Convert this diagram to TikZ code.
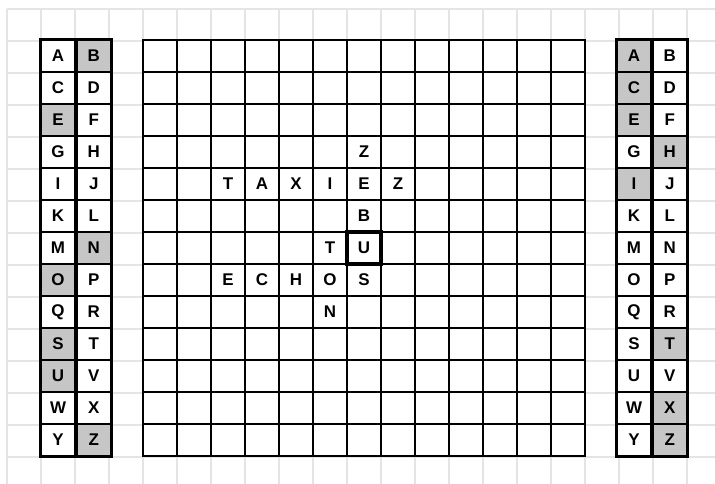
\documentclass[tikz,border=0pt]{standalone}
\usepackage{fontspec}
\setsansfont{Liberation Sans}
\usetikzlibrary{positioning}
\definecolor{rasterfarbe}{HTML}{E4E4E4}
\definecolor{markiert}{HTML}{C6C6C6}

\begin{document}
\begin{tikzpicture}[x=1bp, y=-1bp,
    feld/.style={draw, line width=1.8bp, minimum width=34bp, minimum height=32bp,
                 inner sep=0pt, font=\sffamily\bfseries\fontsize{17}{17}\selectfont},
    buchst/.style={minimum width=34bp, minimum height=32bp, inner sep=0pt,
                   font=\sffamily\bfseries\fontsize{17}{17}\selectfont},
    markbox/.style={buchst, draw, line width=3.4bp},
    linie/.style={line width=1.8bp},
    rahmen/.style={line width=2.8bp},
    raster/.style={draw=rasterfarbe, line width=1.2bp}
  ]
  % ── Hintergrund: Karopapier ──
  \fill[white] (0,0) rectangle (715,484);
  \useasboundingbox (0,0) rectangle (715,484);
  \foreach \i in {0,...,20}
    \draw[raster] ({7+34*\i},9) -- ({7+34*\i},484);
  \foreach \j in {0,...,14}
    \draw[raster] (7,{9+32*\j}) -- (715,{9+32*\j});

  % ── Spielfeld 13 x 13 ──
  \fill[white] (143,40) rectangle (585,456);
  \foreach \i in {1,...,12} {
    \draw[linie] ({143+34*\i},40) -- ({143+34*\i},456);
    \draw[linie] (143,{40+32*\i}) -- (585,{40+32*\i});
  }
  \draw[rahmen] (143,40) rectangle (585,456);

  % ── gelegte Buchstaben ──
  \foreach \b/\z/\s in {Z/3/6, T/4/2, A/4/3, X/4/4, I/4/5, E/4/6, Z/4/7,
                        B/5/6, T/6/5, E/7/2, C/7/3, H/7/4, O/7/5, S/7/6, N/8/5}
    \node[buchst] (m-\z-\s) at ({160+34*\s},{56+32*\z}) {\b};
  \node[markbox] (m-6-6) at ({160+34*6},{56+32*6}) {U};

  % ── Buchstabenleisten links und rechts ──
  \foreach \a/\b/\fa/\fb/\ga/\gb [count=\z from 0] in {
      A/B/white/markiert/markiert/white,
      C/D/white/white/markiert/white,
      E/F/markiert/white/markiert/white,
      G/H/white/white/white/markiert,
      I/J/white/white/markiert/white,
      K/L/white/white/white/white,
      M/N/white/markiert/white/white,
      O/P/markiert/white/white/white,
      Q/R/white/white/white/white,
      S/T/markiert/white/white/markiert,
      U/V/markiert/white/white/white,
      W/X/white/white/white/markiert,
      Y/Z/white/markiert/white/markiert} {
    \node[feld, fill=\fa] (l-\a) at (58,{56+32*\z}) {\a};
    \node[feld, fill=\fb, right=0pt of l-\a] (l-\b) {\b};
    \node[feld, fill=\ga] (r-\a) at (634,{56+32*\z}) {\a};
    \node[feld, fill=\gb, right=0pt of r-\a] (r-\b) {\b};
  }
  \draw[rahmen] (l-A.north west) rectangle (l-Z.south east);
  \draw[rahmen] (r-A.north west) rectangle (r-Z.south east);
\end{tikzpicture}
\end{document}
